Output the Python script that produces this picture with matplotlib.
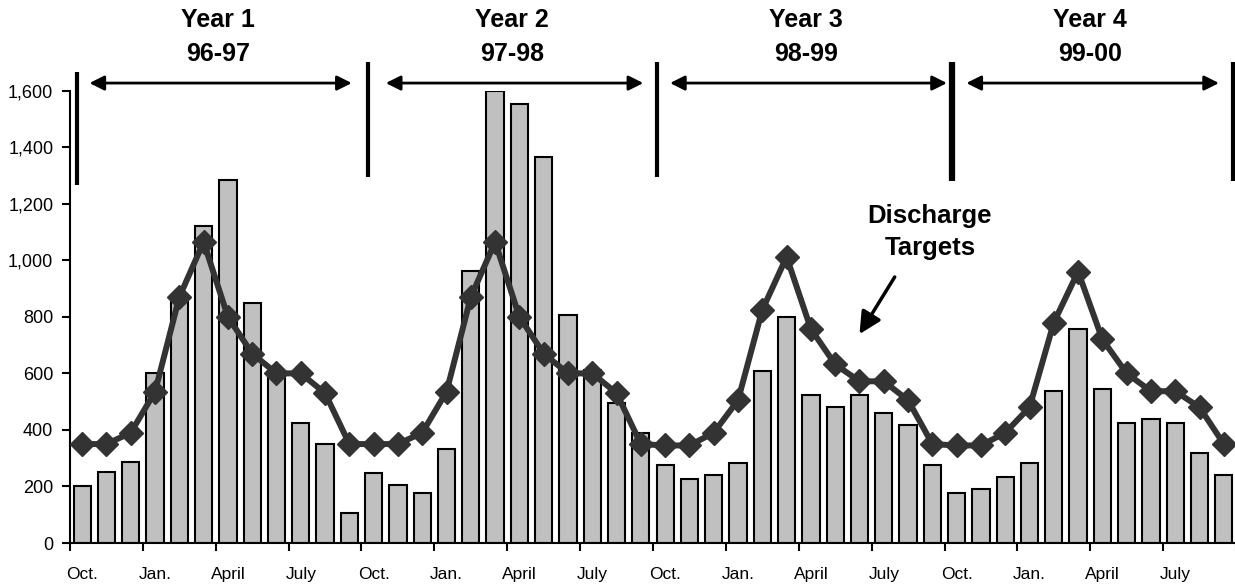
import numpy as np
import matplotlib.pyplot as plt
from matplotlib.ticker import FuncFormatter

plt.rcParams['font.family'] = ['Liberation Sans', 'DejaVu Sans']

# --------------------------------------------
# DATA (monthly, Oct 1996 - Sep 2000)
# --------------------------------------------

discharge = [200, 250, 285, 600, 870, 1120, 1285, 850, 600, 425, 350, 106,
             248, 204, 177, 333, 963, 1600, 1552, 1366, 807, 612, 497, 389,
             275, 227, 240, 283, 608, 799, 524, 481, 524, 460, 416, 275,
             177, 191, 234, 283, 537, 757, 544, 425, 439, 425, 319, 241]

targets = [350, 350, 390, 535, 870, 1065, 800, 670, 600, 600, 530, 350,
           350, 350, 390, 535, 870, 1065, 800, 670, 600, 600, 530, 350,
           345, 345, 390, 505, 825, 1012, 757, 632, 572, 572, 505, 350,
           345, 345, 390, 480, 780, 960, 720, 600, 537, 537, 480, 350]

month_labels = ["Oct.", "Jan.", "April", "July"] * 4
year_titles = ["Year 1\n96-97", "Year 2\n97-98", "Year 3\n98-99", "Year 4\n99-00"]

# divider line x positions (data units) and their widths
dividers = [-0.21, 11.76, 23.66, 35.8, 47.38]
divider_lw = [3, 3, 3, 4.5, 3]
divider_y = [(1266, 1667), (1296, 1701), (1296, 1701), (1282, 1701), (1282, 1701)]

# arrows spanning each year (data units)
arrow_spans = [(0.3, 11.1), (12.5, 23.1), (24.2, 35.6), (36.4, 46.8)]

x = np.arange(len(discharge))

# --------------------------------------------
# PLOT
# --------------------------------------------

fig = plt.figure(figsize=(12.35, 5.86), dpi=100)
ax = fig.add_axes([70/1235, 43/586, 1166/1235, 452.3/586])

ax.bar(x, discharge, width=0.71, color="#C0C0C0", edgecolor="black", linewidth=1.5, zorder=2)
ax.plot(x, targets, color="#333333", linewidth=4.3, marker="D", markersize=12,
        markerfacecolor="#333333", markeredgecolor="#333333", zorder=3, clip_on=False)

ax.set_xlim(-0.5, len(discharge) - 0.5)
ax.set_ylim(0, 1600)
ax.set_yticks(np.arange(0, 1601, 200))
ax.yaxis.set_major_formatter(FuncFormatter(lambda v, p: f"{int(v):,}"))

# ticks between categories, labels on every third month
ax.set_xticks(np.arange(-0.5, len(discharge), 3))
ax.set_xticklabels([])
ax.set_xticks(np.arange(0, len(discharge), 3), minor=True)
ax.set_xticklabels(month_labels, minor=True)
ax.tick_params(axis="x", which="minor", length=0, labelsize=12.5, pad=17)
ax.tick_params(axis="x", which="major", length=6, width=1.5, direction="out")
ax.tick_params(axis="y", length=6, width=1.5, labelsize=13, pad=6)

for s in ["top", "right"]:
    ax.spines[s].set_visible(False)
for s in ["left", "bottom"]:
    ax.spines[s].set_linewidth(1.5)

# year dividers
for xd, lw, (y0, y1) in zip(dividers, divider_lw, divider_y):
    ax.plot([xd, xd], [y0, y1], color="black", linewidth=lw, clip_on=False,
            solid_capstyle="butt")

# year arrows and titles
for (a, b), title in zip(arrow_spans, year_titles):
    ax.annotate("", xy=(a, 1627), xytext=(b, 1627),
                arrowprops=dict(arrowstyle="<|-|>", color="black", lw=2,
                                mutation_scale=22, shrinkA=0, shrinkB=0),
                annotation_clip=False)
    ax.text((a + b) / 2 - 0.1, 1790, title, ha="center", va="center",
            fontsize=18, fontweight="bold", linespacing=1.55)

# discharge target label
ax.text(34.9, 1100, "Discharge\nTargets", ha="center", va="center",
        fontsize=18.5, fontweight="bold", linespacing=1.45)
ax.annotate("", xy=(32.0, 739), xytext=(33.45, 941),
            arrowprops=dict(arrowstyle="-|>,head_length=0.6,head_width=0.3", color="black", lw=2.5,
                            mutation_scale=22, shrinkA=0, shrinkB=0))

plt.savefig("out.png", dpi=100)
plt.close()
